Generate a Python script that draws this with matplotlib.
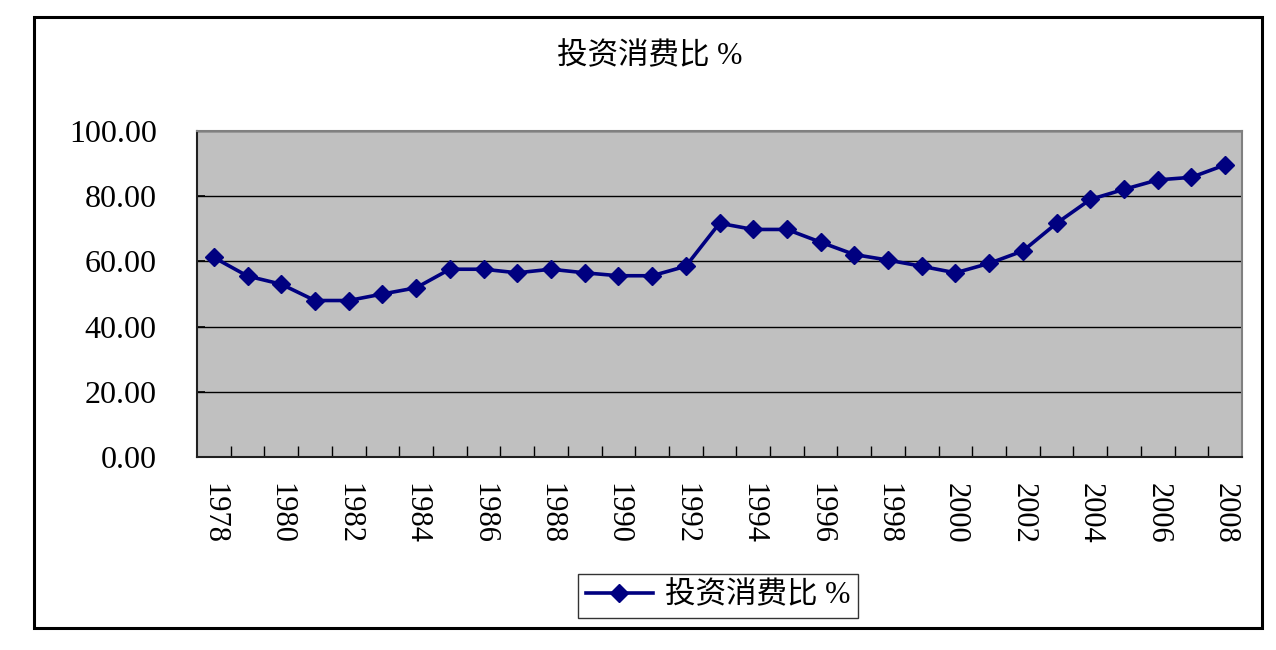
import numpy as np
import matplotlib.pyplot as plt
from matplotlib.patches import Rectangle

# data
years = list(range(1978, 2009))
ratio = [61.2, 55.5, 53.0, 48.0, 48.0, 50.0, 51.9, 57.6, 57.6, 56.5,
         57.6, 56.5, 55.6, 55.6, 58.5, 71.7, 69.8, 69.8, 65.9, 62.1,
         60.4, 58.5, 56.5, 59.4, 63.2, 71.7, 79.0, 82.1, 85.0, 85.8, 89.6]
series_name = "投资消费比 %"
y_ticks = [0, 20, 40, 60, 80, 100]

plt.rcParams['font.family'] = ['Liberation Serif', 'Noto Sans CJK SC']

fig = plt.figure(figsize=(12.76, 6.5), dpi=100)
W, H = 1276, 650
ax = fig.add_axes([197 / W, 1 - 457 / H, (1242 - 197) / W, (457 - 131) / H])
ax.set_facecolor('#C0C0C0')

x = np.arange(len(years))
ax.plot(x, ratio, color='#000080', lw=2.6, marker='D', ms=9.5,
        markerfacecolor='#000080', markeredgecolor='#000080', label=series_name)

ax.set_xlim(-0.5, len(years) - 0.5)
ax.set_ylim(0, 100)
ax.set_yticks(y_ticks)
ax.set_yticklabels(['%.2f' % v for v in y_ticks], fontsize=23)
ax.yaxis.grid(True, color='black', lw=1)
ax.set_axisbelow(True)
ax.tick_params(axis='y', direction='in', length=6, pad=29, width=1.2)

ax.set_xticks(x[::2])
ax.set_xticklabels([str(y) for y in years[::2]], rotation=270, fontsize=22)
ax.set_xticks(np.arange(0.5, len(years) - 0.5, 1.0), minor=True)
ax.tick_params(axis='x', which='major', length=0, pad=19)
ax.tick_params(axis='x', which='minor', direction='in', length=8, width=1)

for side in ['left', 'bottom']:
    ax.spines[side].set_color('#202020')
    ax.spines[side].set_linewidth(1.5)
for side in ['top', 'right']:
    ax.spines[side].set_color('#808080')
    ax.spines[side].set_linewidth(1.5)

fig.text(650 / W, 1 - 57 / H, series_name, ha='center', va='center', fontsize=22)

leg = fig.legend(loc='center', bbox_to_anchor=(718 / W, 1 - 596 / H), fontsize=22,
                 fancybox=False, frameon=True, handlelength=2.2, borderpad=0.25,
                 handletextpad=0.4)
leg.get_frame().set_edgecolor('black')
leg.get_frame().set_linewidth(1)

fig.patches.append(Rectangle((34 / W, 1 - 628 / H), (1262 - 34) / W, (628 - 17) / H,
                             transform=fig.transFigure, fill=False,
                             edgecolor='black', lw=2.2))

fig.savefig('out.png', dpi=100)
